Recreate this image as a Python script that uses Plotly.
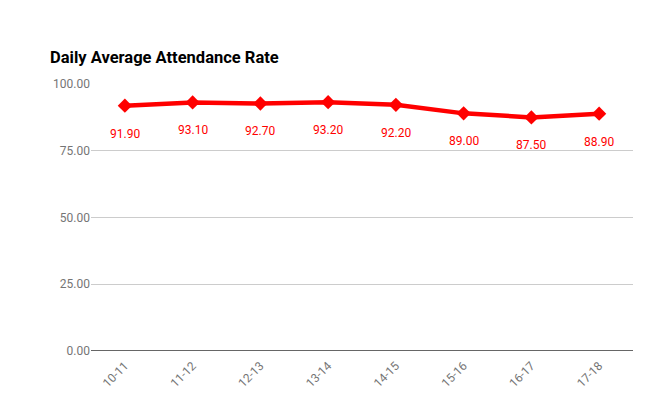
import plotly.graph_objects as go

categories = ["10-11", "11-12", "12-13", "13-14", "14-15", "15-16", "16-17", "17-18"]
values = [91.9, 93.1, 92.7, 93.2, 92.2, 89.0, 87.5, 88.9]
y_ticks = [0, 25, 50, 75, 100]
y_tick_labels = ["0.00", "25.00", "50.00", "75.00", "100.00"]

fig = go.Figure()
fig.add_trace(go.Scatter(
    x=categories, y=values,
    mode="lines+markers",
    line=dict(color="#ff0000", width=4.5),
    marker=dict(symbol="diamond", size=11, color="#ff0000"),
    cliponaxis=False,
    hoverinfo="skip",
))

for c, v in zip(categories, values):
    fig.add_annotation(x=c, y=v, text=f"{v:.2f}", showarrow=False,
                       yshift=-28, font=dict(family="Roboto", size=12, color="#ff0000"))

fig.update_layout(
    width=671, height=395,
    margin=dict(l=91, r=38, t=84, b=44),
    paper_bgcolor="white", plot_bgcolor="white",
    showlegend=False,
    font=dict(family="Roboto", size=12, color="#757575"),
    title=dict(
        text="<b>Daily Average Attendance Rate</b>",
        x=50/671, xanchor="left", xref="container",
        y=1 - 57/395, yanchor="middle", yref="container",
        font=dict(family="Roboto", size=16.5, color="#000000"),
    ),
    xaxis=dict(
        type="category", range=[-0.5, 7.5], automargin=False,
        tickangle=-45, showgrid=False, ticks="outside", ticklen=2, tickcolor="rgba(0,0,0,0)",
        showline=False, zeroline=False,
        tickfont=dict(family="Roboto", size=12, color="#757575"),
    ),
    yaxis=dict(
        range=[0, 100], tickvals=y_ticks, ticktext=y_tick_labels, automargin=False,
        showgrid=True, gridcolor="#cccccc", gridwidth=1,
        zeroline=False, showline=False, ticks="",
        tickfont=dict(family="Roboto", size=12, color="#757575"),
    ),
)

fig.add_shape(type="line", xref="paper", yref="y", x0=0, x1=1, y0=0, y1=0,
              line=dict(color="#333333", width=1.5))

fig.write_html("out.html", config={"displayModeBar": False},
               post_script="document.body.style.margin='0';")
